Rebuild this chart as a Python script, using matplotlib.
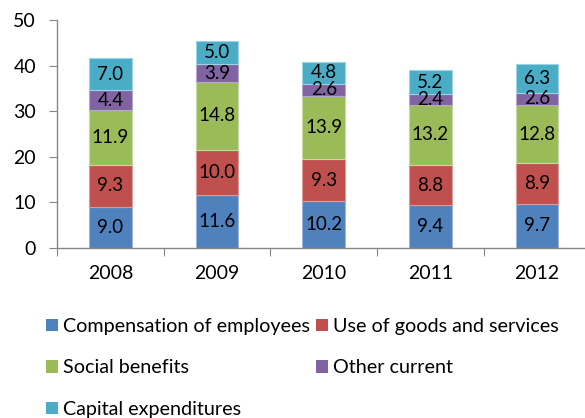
import matplotlib
matplotlib.use("Agg")
import matplotlib.pyplot as plt
import numpy as np

plt.rcParams['font.family'] = ['Lato', 'DejaVu Sans']

years = ["2008", "2009", "2010", "2011", "2012"]
series_names = ["Compensation of employees", "Use of goods and services",
                "Social benefits", "Other current", "Capital expenditures"]
compensation = [9.0, 11.6, 10.2, 9.4, 9.7]
goods_services = [9.3, 10.0, 9.3, 8.8, 8.9]
social_benefits = [11.9, 14.8, 13.9, 13.2, 12.8]
other_current = [4.4, 3.9, 2.6, 2.4, 2.6]
capital_exp = [7.0, 5.0, 4.8, 5.2, 6.3]
colors = ["#4F81BD", "#C0504D", "#9BBB59", "#8064A2", "#4BACC6"]
edge_colors = ["#9DB7DA", "#DA9C9A", "#C6D9A4", "#B5A6CB", "#9DD3E2"]

all_series = [compensation, goods_services, social_benefits, other_current, capital_exp]

fig = plt.figure(figsize=(5.85, 4.18), dpi=100)
ax = fig.add_axes([57 / 585, 170 / 418, 533.5 / 585, 228 / 418])

x = np.arange(len(years))
bottom = np.zeros(len(years))
handles = []
for vals, name, c, ec in zip(all_series, series_names, colors, edge_colors):
    vals = np.array(vals)
    bars = ax.bar(x, vals, width=0.4, bottom=bottom, color=c, edgecolor=ec,
                  linewidth=0.8, label=name)
    handles.append(bars)
    for xi, v, b in zip(x, vals, bottom):
        ax.text(xi, b + v / 2, f"{v:.1f}", ha="center", va="center",
                fontsize=13.5, color="black")
    bottom += vals

ax.set_xlim(-0.5, 4.5)
ax.set_ylim(0, 50)
ax.set_yticks(range(0, 51, 10))
ax.set_xticks(np.arange(-0.5, 4.6, 1.0))
ax.set_xticklabels([])
ax.set_xticks(x, minor=True)
ax.set_xticklabels(years, minor=True)
ax.tick_params(axis="x", which="minor", length=0, pad=12, labelsize=14)
ax.tick_params(axis="x", which="major", length=6, color="#868686", direction="out")
ax.tick_params(axis="y", length=6, color="#868686", labelsize=14, pad=9)
for s in ["top", "right"]:
    ax.spines[s].set_visible(False)
for s in ["left", "bottom"]:
    ax.spines[s].set_color("#868686")
    ax.spines[s].set_linewidth(1.0)
ax.spines["bottom"].set_clip_on(False)

order = [0, 2, 4, 1, 3]
leg = fig.legend([handles[i] for i in order], [series_names[i] for i in order],
                 ncol=2, loc="upper left", bbox_to_anchor=(46 / 585, 1 - 318 / 418),
                 frameon=False, fontsize=14.2, handlelength=0.61, handleheight=0.61,
                 handletextpad=0.25, columnspacing=0.3, labelspacing=1.24,
                 borderaxespad=0, borderpad=0)
for h in leg.legend_handles:
    h.set_edgecolor("none")

fig.savefig("out.png", dpi=100)
